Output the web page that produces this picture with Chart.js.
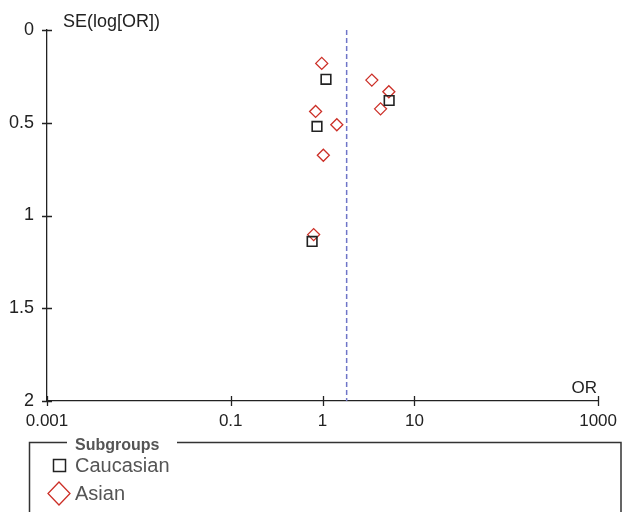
<!DOCTYPE html>
<html>
<head>
<meta charset="utf-8">
<script src="https://cdn.jsdelivr.net/npm/chart.js@4/dist/chart.umd.min.js"></script>
<style>
  html, body { margin: 0; padding: 0; background: #ffffff; }
  #wrap { width: 627px; height: 512px; position: relative; }
</style>
</head>
<body>
<div id="wrap"><canvas id="c" width="627" height="512"></canvas></div>
<script>
// ---- data ----
const seriesNames = ['Caucasian', 'Asian'];
const caucasianOR = [1.09, 0.87, 5.31, 0.77];
const caucasianSE = [0.266, 0.52, 0.38, 1.14];
const asianOR = [0.98, 0.84, 1.43, 1.02, 3.44, 5.27, 4.28, 0.80];
const asianSE = [0.18, 0.439, 0.511, 0.675, 0.27, 0.333, 0.425, 1.103];
const pooledOR = 1.83;
const seRange = [0, 2];
const xTicks = [0.001, 0.1, 1, 10, 1000];
const xTickLabels = ['0.001', '0.1', '1', '10', '1000'];
const yTicks = [0, 0.5, 1, 1.5, 2];
const yTickLabels = ['0', '0.5', '1', '1.5', '2'];
const yTitle = 'SE(log[OR])';
const xTitle = 'OR';
const legendTitle = 'Subgroups';

const FONT = '"Liberation Sans", Arial, Helvetica, sans-serif';

function pts(xs, ys) { return xs.map((v, i) => ({ x: v, y: ys[i] })); }

const extras = {
  id: 'extras',
  afterDraw(chart) {
    const ctx = chart.ctx;
    const xs = chart.scales.x, ys = chart.scales.y;
    const area = chart.chartArea;
    ctx.save();
    // crossing tick marks
    ctx.strokeStyle = '#222';
    ctx.lineWidth = 1.3;
    ctx.beginPath();
    xTicks.forEach(v => {
      const px = Math.round(xs.getPixelForValue(v)) + 0.5;
      ctx.moveTo(px, area.bottom - 5);
      ctx.lineTo(px, area.bottom + 5);
    });
    yTicks.forEach(v => {
      const py = Math.round(ys.getPixelForValue(v)) + 0.5;
      ctx.moveTo(area.left - 5, py);
      ctx.lineTo(area.left + 5, py);
    });
    ctx.stroke();
    // axis titles
    ctx.fillStyle = '#222';
    ctx.font = '18px ' + FONT;
    ctx.textBaseline = 'alphabetic';
    ctx.textAlign = 'left';
    ctx.fillText(yTitle, area.left + 16, 27);
    ctx.font = '17px ' + FONT;
    ctx.textAlign = 'right';
    ctx.fillText(xTitle, area.right - 1, area.bottom - 8);

    // legend box
    const bx0 = 29.5, bx1 = 621, by0 = 442.5, by1 = 520;
    const gap0 = 67, gap1 = 177;
    ctx.strokeStyle = '#333';
    ctx.lineWidth = 1.5;
    ctx.beginPath();
    ctx.moveTo(gap0, by0);
    ctx.lineTo(bx0, by0);
    ctx.lineTo(bx0, by1);
    ctx.moveTo(bx1, by1);
    ctx.lineTo(bx1, by0);
    ctx.lineTo(gap1, by0);
    ctx.stroke();
    ctx.fillStyle = '#555';
    ctx.font = 'bold 16px ' + FONT;
    ctx.textAlign = 'left';
    ctx.textBaseline = 'middle';
    ctx.fillText(legendTitle, 75, 446);

    const ds = chart.data.datasets;
    // Caucasian entry
    ctx.strokeStyle = ds[0].borderColor;
    ctx.lineWidth = 1.5;
    ctx.strokeRect(53.5, 459.5, 12, 12);
    ctx.fillStyle = '#555';
    ctx.font = '20px ' + FONT;
    ctx.fillText(ds[0].label, 75, 466);
    // Asian entry
    ctx.strokeStyle = ds[1].borderColor;
    ctx.lineWidth = 1.3;
    ctx.beginPath();
    ctx.moveTo(59, 482);
    ctx.lineTo(70, 493.5);
    ctx.lineTo(59, 505);
    ctx.lineTo(48, 493.5);
    ctx.closePath();
    ctx.stroke();
    ctx.fillText(ds[1].label, 75, 494.5);
    ctx.restore();
  }
};

new Chart(document.getElementById('c'), {
  type: 'scatter',
  data: {
    datasets: [
      {
        label: seriesNames[0],
        data: pts(caucasianOR, caucasianSE),
        pointStyle: 'rect',
        pointRadius: 6.8,
        pointHoverRadius: 6.8,
        borderColor: '#222222',
        backgroundColor: 'rgba(0,0,0,0)',
        pointBorderWidth: 1.6
      },
      {
        label: seriesNames[1],
        data: pts(asianOR, asianSE),
        pointStyle: 'rectRot',
        pointRadius: 6,
        pointHoverRadius: 6,
        borderColor: '#cc2f27',
        backgroundColor: 'rgba(0,0,0,0)',
        pointBorderWidth: 1.3
      },
      {
        label: 'pooled',
        type: 'line',
        data: [{ x: pooledOR, y: seRange[0] }, { x: pooledOR, y: seRange[1] }],
        borderColor: '#6f75c8',
        borderWidth: 1.5,
        borderDash: [5, 3],
        pointRadius: 0,
        fill: false
      }
    ]
  },
  options: {
    responsive: false,
    animation: false,
    events: [],
    layout: { padding: { top: 30, right: 27, left: 0, bottom: 0 } },
    plugins: { legend: { display: false }, tooltip: { enabled: false } },
    scales: {
      x: {
        type: 'logarithmic',
        min: xTicks[0],
        max: xTicks[xTicks.length - 1],
        afterBuildTicks(scale) { scale.ticks = xTicks.map(v => ({ value: v })); },
        afterFit(scale) { scale.height = 111; },
        grid: { display: false, drawTicks: false },
        border: { display: true, color: '#222', width: 1.3 },
        ticks: {
          autoSkip: false,
          maxRotation: 0,
          padding: 10,
          color: '#222',
          font: { family: FONT, size: 17 },
          callback(v) { const i = xTicks.indexOf(v); return i >= 0 ? xTickLabels[i] : ''; }
        }
      },
      y: {
        type: 'linear',
        reverse: true,
        min: seRange[0],
        max: seRange[1],
        afterBuildTicks(scale) { scale.ticks = yTicks.map(v => ({ value: v })); },
        afterFit(scale) { scale.width = 47; },
        grid: { display: false, drawTicks: false },
        border: { display: true, color: '#222', width: 1.3 },
        ticks: {
          autoSkip: false,
          padding: 13,
          color: '#222',
          font: { family: FONT, size: 18 },
          callback(v) { const i = yTicks.indexOf(v); return i >= 0 ? yTickLabels[i] : ''; }
        }
      }
    }
  },
  plugins: [extras]
});
</script>
</body>
</html>
